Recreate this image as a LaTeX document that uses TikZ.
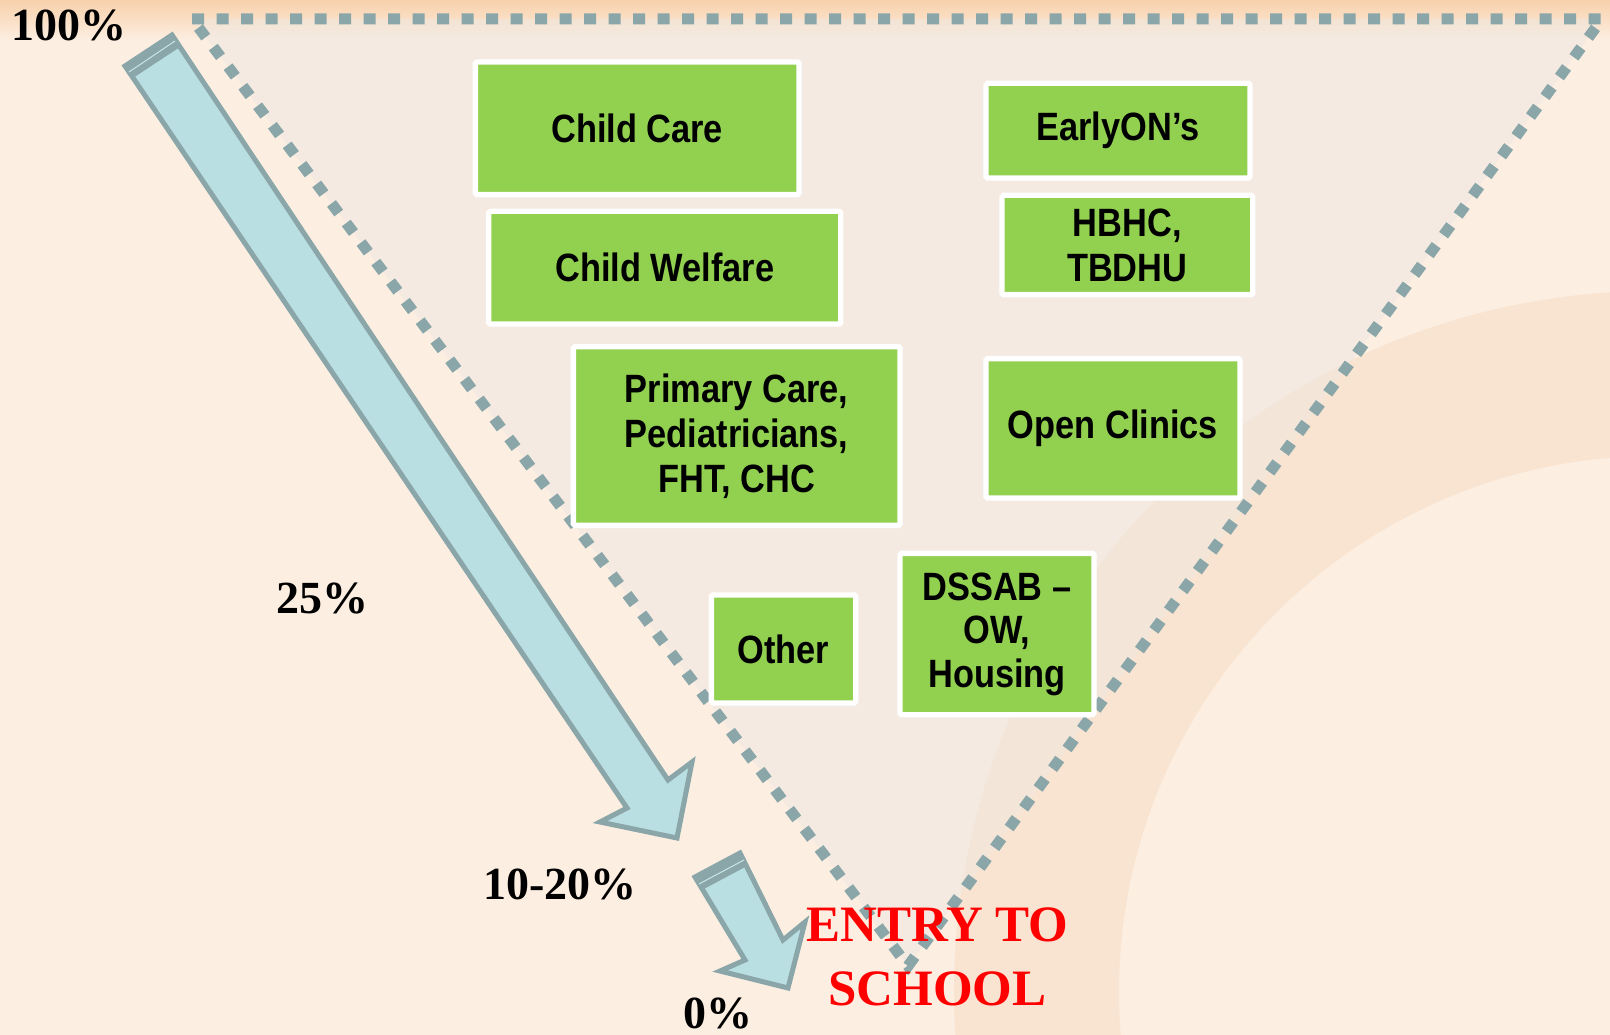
\documentclass[tikz,border=0pt]{standalone}
\usepackage{fontspec}
\setmainfont{Liberation Serif}
\newfontfamily\boxfont[FakeStretch=0.87]{Liberation Sans}
\usepackage{xcolor}
\definecolor{bgPeach}{HTML}{FCEEE1}
\definecolor{topPeach}{HTML}{F8D1AB}
\definecolor{ringPeach}{HTML}{F9E4D1}
\definecolor{funnelGrey}{HTML}{EEE8E2}
\definecolor{dotGrey}{HTML}{8AA6A9}
\definecolor{arrowBlue}{HTML}{B9DFE3}
\definecolor{capLine}{HTML}{C9E5E7}
\definecolor{boxGreen}{HTML}{92D050}
\definecolor{entryRed}{HTML}{FF0000}

\begin{document}
\begin{tikzpicture}[x=1pt,y=-1pt,
 box/.style={draw=white, line width=5.3pt, fill=boxGreen, rounded corners=1.5pt, inner sep=0pt, align=center,
  font=\boxfont\bfseries\fontsize{39.5}{45}\selectfont},
 pct/.style={font=\bfseries\fontsize{46}{50}\selectfont, inner sep=0pt, anchor=base},
 flowarrow/.style={fill=arrowBlue, draw=dotGrey, line width=5pt}]
 % Background
 \useasboundingbox (0,0) rectangle (1610,1035);
 \clip (0,0) rectangle (1610,1035);
 \fill[bgPeach] (0,0) rectangle (1610,1035);
 \shade[top color=topPeach, bottom color=bgPeach] (0,0) rectangle (1610,40);
 \fill[ringPeach, even odd rule] (1655,992) circle (701pt) (1655,992) circle (536pt);
 % Funnel
 \fill[funnelGrey, fill opacity=0.5] (192,19) -- (1602,19) -- (908,966) -- cycle;
 \draw[dotGrey, line width=11pt, dash pattern=on 12pt off 12.5pt] (192,19) -- (1602,19) -- (908,966) -- cycle;
 % Arrows
 \filldraw[flowarrow] (125,66) -- (172,35) -- (668,780) -- (692,762) -- (677,838) -- (600,822) -- (627,808) -- cycle;
 \fill[dotGrey] (125,66) -- (172,35) -- (180,47) -- (133,78) -- cycle;
 \draw[capLine, line width=1pt] (129,72) -- (175,41);
 \filldraw[flowarrow] (695,877) -- (740,853) -- (783,940) -- (805,922) -- (788,988) -- (720,971) -- (745,960) -- cycle;
 \fill[dotGrey] (695,877) -- (740,853) -- (747,866) -- (702,890) -- cycle;
 \draw[capLine, line width=1pt] (699,884) -- (744,860);
 % Services
 \node[box, minimum width=323.7pt, minimum height=132.7pt] (childcare) at (637.2,128.3) {Child Care};
 \node[box, minimum width=264.1pt, minimum height=94.7pt] (earlyon) at (1118,130.7) {EarlyON’s};
 \node[box, minimum width=352pt, minimum height=112.7pt] (welfare) at (664.7,267.7) {Child Welfare};
 \node[box, minimum width=250.7pt, minimum height=99.3pt] (hbhc) at (1127.3,245) {HBHC,\\TBDHU};
 \node[box, minimum width=326.7pt, minimum height=178.7pt] (primary) at (736.7,436) {Primary Care,\\Pediatricians,\\FHT, CHC};
 \node[box, minimum width=254.1pt, minimum height=139.4pt] (clinics) at (1113,428.3) {Open Clinics};
 \node[box, minimum width=144.3pt, minimum height=108.1pt] (other) at (783.5,649) {Other};
 \node[box, minimum width=194.1pt, minimum height=161.3pt, font=\boxfont\bfseries\fontsize{39.5}{43.5}\selectfont] (dssab) at (997,634) {DSSAB –\\OW,\\Housing};
 % Percent labels
 \node[pct] (pcttop) at (69,41) {100\%};
 \node[pct] (pct25) at (322.5,613) {25\%};
 \node[pct] (pct1020) at (560,899) {10-20\%};
 \node[pct] (pct0) at (718,1028) {0\%};
 \node[inner sep=0pt, align=center, text=entryRed, font=\bfseries\fontsize{51}{64}\selectfont] (entry) at (937.5,957) {ENTRY TO\\SCHOOL};
\end{tikzpicture}
\end{document}
